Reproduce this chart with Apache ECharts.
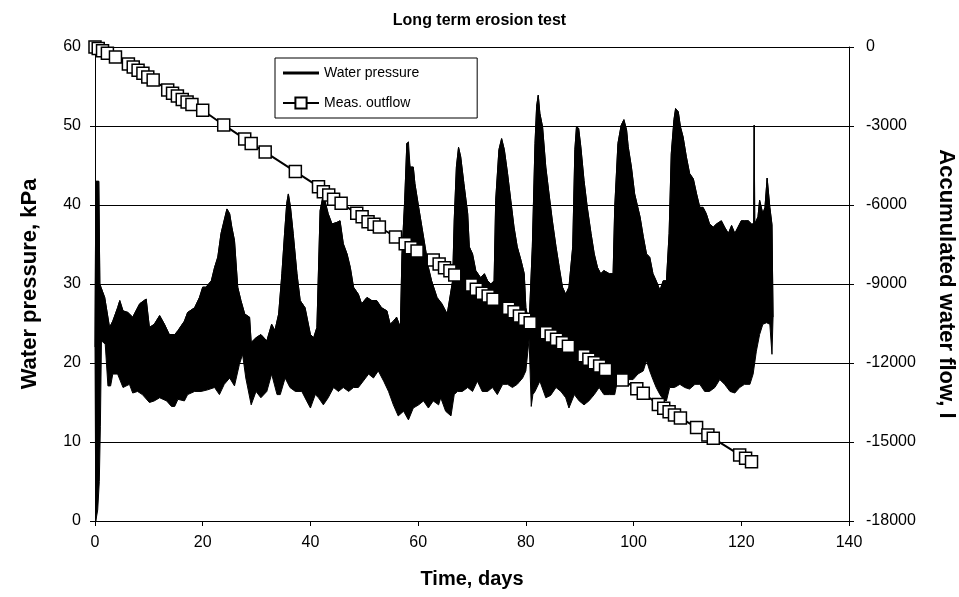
<!DOCTYPE html>
<html>
<head>
<meta charset="utf-8">
<script src="https://cdn.jsdelivr.net/npm/echarts@6/dist/echarts.min.js"></script>
<style>
html,body{margin:0;padding:0;background:#fff;}
#chart{width:959px;height:597px;}
</style>
</head>
<body>
<div id="chart"></div>
<script>
// Water pressure: upper envelope of the dense oscillating record (time in days, kPa)
const pressHiT = [0.0,0.15,0.7,0.9,1.1,1.8,2.7,3.3,4.2,4.6,5.2,6.1,7.0,8.3,9.5,10.1,11.0,12.0,12.9,13.8,14.8,15.4,16.6,17.2,18.5,19.4,20.0,20.6,21.6,22.2,22.8,23.4,24.0,24.5,25.0,25.4,25.9,26.5,27.1,27.8,28.7,29.0,29.9,30.8,31.9,32.8,33.4,34.1,34.7,35.2,35.6,35.9,36.3,36.8,37.5,38.1,39.0,40.0,40.6,41.2,41.8,42.3,42.7,43.3,44.0,44.9,45.5,46.1,46.8,47.4,48.0,48.9,49.5,50.5,51.4,52.3,53.2,54.2,54.8,55.4,56.0,56.7,57.0,57.5,57.9,58.2,58.5,59.1,59.4,60.1,60.7,61.3,61.9,62.5,63.5,64.4,65.4,66.4,66.7,67.1,67.5,67.9,68.5,69.2,69.5,70.1,70.7,71.6,72.3,72.9,73.5,74.1,74.4,75.0,75.5,76.0,76.6,77.2,77.8,78.4,79.1,79.7,80.0,80.6,81.2,81.7,82.0,82.3,82.6,83.1,83.7,84.3,84.9,85.6,86.2,86.8,87.4,88.0,88.7,89.1,89.4,89.8,90.2,90.8,91.4,92.1,92.7,93.3,93.9,94.5,95.5,96.2,96.5,97.1,97.7,98.2,98.7,99.0,99.6,100.2,101.2,101.8,102.4,103.0,103.6,104.2,104.9,105.5,106.1,106.6,107.0,107.5,107.8,108.3,108.7,109.2,109.8,110.4,111.1,111.7,112.3,112.9,113.5,114.1,114.8,115.4,116.3,116.9,117.6,118.2,118.8,119.4,120.0,120.6,121.3,121.9,122.3,122.4,122.5,123.1,123.4,124.0,124.4,124.8,125.3,125.7,125.9];
const pressHiV = [22,43,43,30,29.6,28.3,24.5,25.3,27,27.9,26.6,26.4,25.8,27.5,28.1,24.5,24.9,26,24.9,23.6,23.6,24.1,25.3,26.4,27,28.3,29.6,29.6,30.4,32.1,33.4,36.4,38.1,39.5,38.9,37.2,35.5,29.6,27.9,26.2,25.8,22.6,23.2,23.6,22.8,24.9,24.1,26.2,31.3,36.4,40.2,41.4,39.7,36.4,31.3,27.9,27,23.6,23.2,24.5,39.3,41,40.5,38.9,37.6,37.8,38,35.1,33.8,32.1,29.6,28.7,27.5,28.3,27.9,27.9,27,26.6,24.9,25.3,25.8,24.5,33.8,40.6,47.8,48,44.8,44.8,42.7,39.7,37.2,34.7,32.1,30.4,28.3,27.5,26.2,30.4,38.1,44.8,47.3,46.1,42.7,38.9,34.7,33.8,31.7,30.8,31.3,30.4,30,30.4,40.6,47,48.4,47,44,40.6,37.2,34.7,33,31.3,27,24.9,34.7,47.8,52.5,53.9,51.6,49.9,44.8,41.4,38.1,34.7,32.1,29.6,28.7,29.6,34.7,47,49.9,49.7,47.4,43.1,39.7,36.4,33.8,32.1,31.3,31.7,31.3,31.3,39.7,47.8,50.1,50.8,49.5,47.4,44.8,41.4,38.5,36,33.8,33.4,31.3,30.4,29.2,30.4,30.4,36.4,46.5,50.8,52.2,51.8,49.9,48.6,46.1,44,43.3,41.4,39.7,39.7,38.9,37.6,37.2,37.6,38,37.2,36.4,37.4,36.4,37.2,38,38,38,37.6,37.6,50.1,37.6,38.5,40.6,38.9,39.7,43.4,39.7,37.5,25.8];
// Water pressure: lower envelope
const pressLoT = [0.0,0.15,0.5,0.8,1.0,1.2,1.9,2.4,2.9,3.3,4.2,5.2,6.4,7.0,7.9,8.8,10.1,11.0,12.0,13.3,14.2,14.8,15.4,16.6,17.2,18.5,19.7,20.9,22.2,23.1,24.0,25.0,25.9,26.8,27.4,28.0,29.0,29.9,30.8,31.9,32.8,33.8,34.4,35.3,36.2,37.2,38.4,39.3,40.0,40.9,41.5,42.4,43.3,44.3,45.2,46.1,47.1,48.0,48.9,49.8,50.8,51.7,52.6,53.6,54.5,55.4,56.3,57.3,58.2,59.1,60.1,61.0,61.9,62.8,63.8,64.2,65.1,66.1,66.7,67.3,68.2,69.2,70.1,71.0,71.9,72.9,73.8,74.7,75.7,76.6,77.5,78.4,79.4,80.0,80.6,81.0,81.3,81.7,82.6,83.7,84.6,85.6,86.5,87.4,88.0,89.0,89.9,90.8,91.7,92.7,93.6,94.5,95.5,96.5,97.1,98.1,99.0,99.9,100.8,101.8,102.4,103.0,103.6,104.2,104.9,105.5,106.1,106.7,107.6,108.6,109.5,110.4,111.4,112.3,113.2,114.1,115.1,116.0,116.9,117.9,118.8,119.7,120.6,121.6,122.2,122.8,123.4,124.0,124.7,125.3,125.7,125.9];
const pressLoV = [22,0,1.4,5,12,22.8,22.4,17.1,17.1,18.6,18.6,16.9,17.3,16.2,16.4,16,15,15.2,15.6,15.2,14.5,14.5,15.4,15.2,16,16.4,16.4,16.6,16.9,16,17.3,18.1,17.1,19.8,21.1,18.1,14.7,16.4,15.6,16.4,18.6,16,16,18.1,16.9,16.4,16.4,15.2,14.3,16,15.6,14.7,15.6,16.9,16.4,16.9,16.4,16.9,16.9,17.7,18.6,18.1,19,17.7,16.4,14.7,13.3,13.9,12.8,14.3,14.7,15.2,14.3,15.2,14.7,15.6,13.9,13.3,16,16.4,16.4,16.9,16.4,17.7,16.4,16.4,16.9,16,17.3,17.3,16.9,17.3,18.1,19,23,14.5,16,16.4,17.7,15.6,15.9,16.9,16.4,15.6,14.3,16,15.2,14.7,15.2,16,16.9,16,16,16,18.1,17.3,17.9,17.9,18.6,19,20.3,19,17.9,16.9,16,15.4,15.2,16.9,16.9,17.3,16.9,16.7,17.3,17.3,16.4,16.4,16.9,17.9,17.3,16.4,16.2,16.9,17.3,17.3,18.6,21.5,23.6,24.9,25.1,24.9,21.1,25.8];
// Measured accumulated outflow (time in days, litres)
const flowT = [0,0.6,1.4,2.3,3.8,6.2,7.1,8.0,8.9,9.8,10.8,13.5,14.4,15.3,16.2,17.1,18.0,20.0,23.9,27.8,29.0,31.6,37.2,41.5,42.4,43.4,44.3,45.7,48.6,49.6,50.7,51.8,52.8,55.8,57.6,58.7,59.8,62.8,63.9,64.9,65.9,66.8,69.9,70.8,71.9,73.0,73.9,76.8,77.8,78.8,79.8,80.8,83.8,84.7,85.7,86.8,87.9,90.8,91.7,92.7,93.7,94.8,97.9,100.6,101.8,104.6,105.6,106.6,107.6,108.7,111.7,113.8,114.8,119.7,120.8,121.9];
const flowV = [0,-60,-140,-240,-375,-650,-760,-880,-1000,-1140,-1253,-1630,-1760,-1865,-1990,-2085,-2185,-2400,-2960,-3490,-3665,-3990,-4732,-5304,-5494,-5620,-5783,-5935,-6315,-6443,-6633,-6732,-6835,-7215,-7468,-7625,-7746,-8088,-8240,-8380,-8494,-8657,-9037,-9201,-9353,-9455,-9581,-9923,-10050,-10214,-10341,-10468,-10848,-10974,-11100,-11228,-11365,-11720,-11859,-11988,-12113,-12250,-12644,-12975,-13150,-13575,-13720,-13847,-13973,-14085,-14450,-14733,-14860,-15492,-15620,-15746];

const FONT = '"Liberation Sans", Arial, sans-serif';
const hiData = pressHiT.map((t, i) => [t, pressHiV[i]]);
const loData = pressLoT.map((t, i) => [t, pressLoV[i]]);
const flowData = flowT.map((t, i) => [t, flowV[i]]);

const chart = echarts.init(document.getElementById('chart'), null, {renderer: 'canvas'});
chart.setOption({
  animation: false,
  backgroundColor: '#fff',
  title: {
    text: 'Long term erosion test',
    left: 'center', top: 8,
    textStyle: {fontFamily: FONT, fontSize: 16, fontWeight: 'bold', color: '#000'}
  },
  legend: {
    orient: 'vertical', left: 275, top: 58,
    itemWidth: 36, itemHeight: 14, itemGap: 16,
    padding: [8, 58, 8, 7],
    borderColor: '#000', borderWidth: 1,
    textStyle: {fontFamily: FONT, fontSize: 14, color: '#000'},
    data: [
      {name: 'Water pressure', icon: 'path://M0,0H36V3H0Z'},
      {name: 'Meas. outflow'}
    ]
  },
  grid: {left: 95, right: 110, top: 47, bottom: 76, containLabel: false, outerBoundsMode: 'none'},
  xAxis: {
    type: 'value', min: 0, max: 140, interval: 20,
    name: 'Time, days', nameLocation: 'middle', nameGap: 48,
    nameTextStyle: {fontFamily: FONT, fontSize: 20, fontWeight: 'bold', color: '#000'},
    axisLine: {show: true, onZero: false, lineStyle: {color: '#000', width: 1}},
    axisTick: {show: true, length: 5, lineStyle: {color: '#000'}},
    axisLabel: {fontFamily: FONT, fontSize: 16, color: '#000', margin: 14},
    splitLine: {show: false}
  },
  yAxis: [{
    type: 'value', min: 0, max: 60, interval: 10,
    name: 'Water pressure, kPa', nameLocation: 'middle', nameGap: 54,
    nameTextStyle: {fontFamily: FONT, fontSize: 22, fontWeight: 'bold', color: '#000'},
    axisLine: {show: true, lineStyle: {color: '#000', width: 1}},
    axisTick: {show: true, length: 5, lineStyle: {color: '#000'}},
    axisLabel: {fontFamily: FONT, fontSize: 16, color: '#000', margin: 14},
    splitLine: {show: true, lineStyle: {color: '#000', width: 1}}
  }, {
    type: 'value', min: -18000, max: 0, interval: 3000, position: 'right',
    name: 'Accumulated water flow, l', nameLocation: 'middle', nameGap: 86,
    nameRotate: -90,
    nameTextStyle: {fontFamily: FONT, fontSize: 22, fontWeight: 'bold', color: '#000'},
    axisLine: {show: true, lineStyle: {color: '#000', width: 1}},
    axisTick: {show: true, length: 5, lineStyle: {color: '#000'}},
    axisLabel: {fontFamily: FONT, fontSize: 16, color: '#000', margin: 17,
      formatter: function (v) { return String(v); }},
    splitLine: {show: false}
  }],
  series: [{
    type: 'custom',
    name: 'pressure band',
    xAxisIndex: 0, yAxisIndex: 0,
    silent: true, z: 2,
    data: [[0, 0]],
    renderItem: function (params, api) {
      const pts = [];
      for (let i = 0; i < hiData.length; i++) pts.push(api.coord(hiData[i]));
      for (let i = loData.length - 1; i >= 0; i--) pts.push(api.coord(loData[i]));
      return {type: 'polygon', shape: {points: pts}, style: {fill: '#000', stroke: '#000', lineWidth: 1}};
    }
  }, {
    type: 'line', name: 'Water pressure',
    xAxisIndex: 0, yAxisIndex: 0, z: 3,
    data: hiData, showSymbol: false, symbol: 'none',
    lineStyle: {color: '#000', width: 1},
    itemStyle: {color: '#000'}
  }, {
    type: 'line', name: 'Meas. outflow',
    xAxisIndex: 0, yAxisIndex: 1, z: 4,
    data: flowData, symbol: 'rect', symbolSize: 12,
    lineStyle: {color: '#000', width: 2},
    itemStyle: {color: '#fff', borderColor: '#000', borderWidth: 1.5}
  }]
});
</script>
</body>
</html>
